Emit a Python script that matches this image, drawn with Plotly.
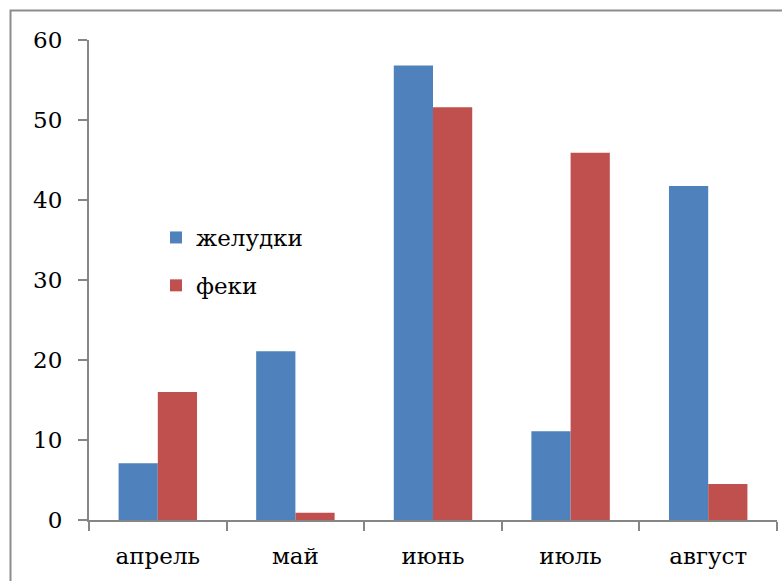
import plotly.graph_objects as go

months = ["апрель", "май", "июнь", "июль", "август"]
stomachs = [7.1, 21.1, 56.8, 11.1, 41.75]
feces = [16.0, 0.9, 51.6, 45.9, 4.5]

blue = "#4F81BD"
red = "#C0504D"
axis_gray = "#868686"
font = dict(family="DejaVu Serif", size=23, color="black")

fig = go.Figure()
fig.add_trace(go.Bar(x=months, y=stomachs, name="желудки", marker_color=blue,
                     legendgroup="a", marker_line=dict(width=0)))
fig.add_trace(go.Bar(x=months, y=feces, name="феки", marker_color=red,
                     legendgroup="b", marker_line=dict(width=0)))

W, H = 782, 581
L, R, T, B = 89, 5, 40, 61
pw, ph = W - L - R, H - T - B

def px(x):
    return (x - L) / pw

def py(y):
    return (H - B - y) / ph

fig.update_layout(
    width=W, height=H,
    margin=dict(l=L, r=R, t=T, b=B),
    paper_bgcolor="white", plot_bgcolor="white",
    font=font,
    barmode="group", bargap=0.43, bargroupgap=0,
    showlegend=True,
    legend=dict(x=px(156), y=py(216), xanchor="left", yanchor="top",
                bgcolor="rgba(0,0,0,0)", tracegroupgap=15,
                traceorder="grouped", font=font),
    xaxis=dict(showline=True, linecolor=axis_gray, linewidth=2,
               ticks="outside", tickson="boundaries", ticklen=9,
               tickcolor=axis_gray, tickwidth=2, showgrid=False,
               ticklabelstandoff=14, tickfont=font),
    yaxis=dict(range=[0, 60], dtick=10, showline=True, linecolor=axis_gray,
               linewidth=2, ticks="outside", ticklen=9, tickcolor=axis_gray,
               tickwidth=2, showgrid=False, zeroline=False,
               ticklabelstandoff=11, tickfont=font),
    yaxis2=dict(range=[0, 60], dtick=10, overlaying="y", side="left",
                ticks="inside", ticklen=8, tickcolor=axis_gray, tickwidth=2,
                showticklabels=False, showgrid=False, zeroline=False,
                showline=False),
    shapes=[dict(type="rect", xref="paper", yref="paper",
                 x0=px(10.5), x1=px(W + 20), y0=py(H + 20), y1=py(10.5),
                 line=dict(color="#8c8c8c", width=2), fillcolor="rgba(0,0,0,0)",
                 layer="below")],
)

fig.write_html("out.html")
